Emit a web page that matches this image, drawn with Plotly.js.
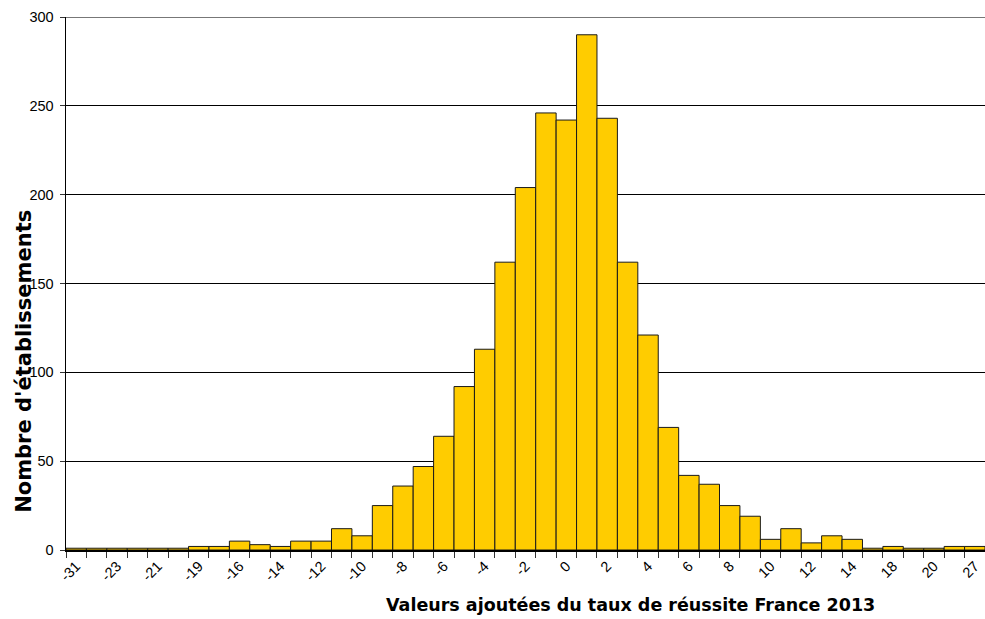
<!DOCTYPE html>
<html>
<head>
<meta charset="utf-8">
<script src="https://cdn.plot.ly/plotly-3.0.1.min.js"></script>
<style>html,body{margin:0;padding:0;background:#fff;}#chart{width:985px;height:619px;}</style>
</head>
<body>
<div id="chart"></div>
<script>
// Category values (class centres of "valeur ajoutée")
const categories = ["-31","-26","-23","-22","-21","-20","-19","-17","-16","-15","-14","-13","-12","-11","-10","-9","-8","-7","-6","-5","-4","-3","-2","-1","0","1","2","3","4","5","6","7","8","9","10","11","12","13","14","15","18","19","20","23","27"];
// Number of schools per category
const counts = [1,1,1,1,1,1,2,2,5,3,2,5,5,12,8,25,36,47,64,92,113,162,204,246,242,290,243,162,121,69,42,37,25,19,6,12,4,8,6,1,2,1,1,2,2];
// Categories whose label is printed on the axis
const labeled = ["-31","-23","-21","-19","-16","-14","-12","-10","-8","-6","-4","-2","0","2","4","6","8","10","12","14","18","20","27"];
const yTicks = [0,50,100,150,200,250,300];
const xTitle = "Valeurs ajoutées du taux de réussite France 2013";
const yTitle = "Nombre d'établissements";

const tickFont = {family: "Liberation Sans, Arial, sans-serif", size: 14.5, color: "#000"};
const titleFont = {family: "DejaVu Sans, Liberation Sans, sans-serif", size: 17.5, color: "#000", weight: "bold"};

const trace = {
  type: "bar",
  x: categories,
  y: counts,
  marker: {color: "#FFCC00", line: {color: "#1a1a1a", width: 1}},
  hoverinfo: "x+y"
};

const W = 985;
const layout = {
  width: W, height: 619,
  margin: {l: 66, r: 0, t: 17, b: 69},
  paper_bgcolor: "#fff", plot_bgcolor: "#fff",
  bargap: 0,
  showlegend: false,
  xaxis: {
    type: "category",
    range: [-0.5, categories.length - 0.5],
    tickmode: "array",
    tickvals: categories,
    ticktext: categories.map(c => labeled.includes(c) ? c : ""),
    tickson: "boundaries",
    ticks: "outside", ticklen: 6, tickwidth: 1, tickcolor: "#333",
    tickangle: -45,
    tickfont: tickFont,
    showgrid: false,
    showline: true, linecolor: "#000", linewidth: 2,
    zeroline: false
  },
  yaxis: {
    range: [0, 300],
    tickmode: "array", tickvals: yTicks,
    ticks: "outside", ticklen: 5, tickwidth: 1, tickcolor: "#333",
    ticklabelstandoff: 3,
    tickfont: tickFont,
    showgrid: true, gridcolor: "#000", gridwidth: 1,
    showline: true, linecolor: "#000", linewidth: 1.5,
    zeroline: false
  },
  shapes: [
    {type: "line", xref: "paper", yref: "y", x0: 0, x1: 1, y0: 300, y1: 300, line: {color: "#777", width: 2}, layer: "below"}
  ],
  annotations: [
    {text: xTitle, xref: "paper", yref: "paper", x: (630 - 66) / (W - 66), y: -0.103, xanchor: "center", yanchor: "middle", showarrow: false, font: titleFont},
    {text: yTitle, xref: "paper", yref: "paper", x: (24 - 66) / (W - 66), y: 0.353, xanchor: "center", yanchor: "middle", textangle: -90, showarrow: false, font: Object.assign({}, titleFont, {size: 21})}
  ]
};

Plotly.newPlot("chart", [trace], layout, {displayModeBar: false, staticPlot: true});
</script>
</body>
</html>
